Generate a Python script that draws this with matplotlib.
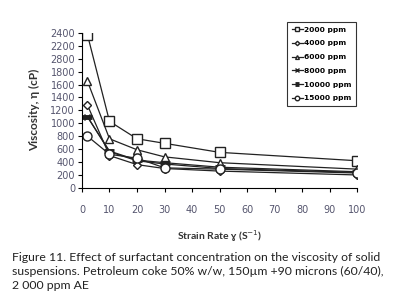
import matplotlib

matplotlib.use("Agg")
import matplotlib.pyplot as plt

# strain rate (1/s)
rate = [2, 10, 20, 30, 50, 100]

# viscosity (cP) per surfactant concentration
ppm_2000 = [2370, 1030, 760, 690, 550, 420]
ppm_4000 = [1280, 500, 360, 300, 260, 200]
ppm_6000 = [1650, 760, 590, 480, 390, 290]
ppm_8000 = [1100, 560, 420, 370, 300, 240]
ppm_10000 = [1100, 570, 430, 390, 320, 250]
ppm_15000 = [800, 520, 460, 310, 290, 230]

series_labels = ["2000 ppm", "4000 ppm", "6000 ppm", "8000 ppm", "10000 ppm", "15000 ppm"]
y_ticks = [0, 200, 400, 600, 800, 1000, 1200, 1400, 1600, 1800, 2000, 2200, 2400]
y_tick_labels = ["0", "200", "400", "600", "800", "1000", "1200", "1400",
                 "1600", "1800", "2800", "2200", "2400"]
x_ticks = [0, 10, 20, 30, 40, 50, 60, 70, 80, 90, 100]

caption = ("Figure 11. Effect of surfactant concentration on the viscosity of solid\n"
           "suspensions. Petroleum coke 50% w/w, 150µm +90 microns (60/40),\n"
           "2 000 ppm AE")

tick_col = "#55556e"

fig = plt.figure(figsize=(3.96, 3.07), dpi=100)
ax = fig.add_axes([0.207, 0.388, 0.695, 0.505])

styles = [
    dict(marker="s", ms=6.5, mfc="white"),
    dict(marker="D", ms=4.5, mfc="white"),
    dict(marker="^", ms=5.5, mfc="white"),
    dict(marker="x", ms=5),
    dict(marker="_", ms=7, mew=3.5),
    dict(marker="o", ms=6.5, mfc="white"),
]
all_series = [ppm_2000, ppm_4000, ppm_6000, ppm_8000, ppm_10000, ppm_15000]
for vals, lab, st in zip(all_series, series_labels, styles):
    ax.plot(rate, vals, color="#222222", lw=0.9, mec="#222222", label=lab, **st)

ax.set_xlim(0, 100)
ax.set_ylim(0, 2400)
ax.set_xticks(x_ticks)
ax.set_yticks(y_ticks)
ax.set_yticklabels(y_tick_labels)
for s in ["top", "right"]:
    ax.spines[s].set_visible(False)
ax.tick_params(axis="y", direction="out", length=3, labelsize=7, labelcolor=tick_col, pad=2)
ax.tick_params(axis="x", direction="out", length=3, labelsize=7, labelcolor=tick_col, pad=9)

ax.set_ylabel("Viscosity, η (cP)", fontsize=8.5, color="#333333", labelpad=7,
              family=["Lato", "DejaVu Sans"], fontweight="bold")
ax.set_xlabel("Strain Rate ɣ (S$^{-1}$)", fontsize=7.5, fontweight="bold", color="#333333",
              labelpad=10, family=["Lato", "DejaVu Sans"])

leg = ax.legend(loc="upper right", bbox_to_anchor=(0.995, 1.07),
                prop=dict(size=5.4, weight="bold", family=["DejaVu Sans"]),
                frameon=True, fancybox=False,
                handlelength=1.5, handletextpad=0.1, borderpad=0.6, labelspacing=1.0,
                markerscale=0.5, borderaxespad=0)
leg.get_frame().set_edgecolor("black")
leg.get_frame().set_linewidth(0.8)

fig.text(0.03, 0.178, caption, fontsize=8.8, family=["Lato", "DejaVu Sans"],
         color="#222222", va="top", linespacing=1.3)

fig.savefig("out.png", dpi=100)
